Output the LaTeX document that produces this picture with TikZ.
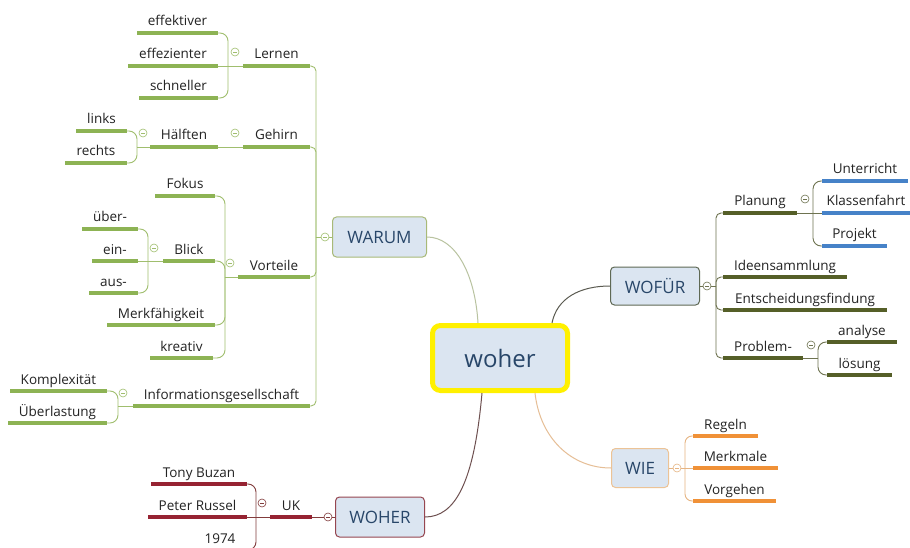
\documentclass[tikz,border=0pt]{standalone}
\usepackage{fontspec}
\setmainfont{Open Sans}
\usetikzlibrary{calc}
\definecolor{gline}{RGB}{141,179,84}
\definecolor{gconn}{RGB}{160,190,110}
\definecolor{oline}{RGB}{85,95,40}
\definecolor{oconn}{RGB}{110,115,80}
\definecolor{bline}{RGB}{70,130,200}
\definecolor{orline}{RGB}{240,145,55}
\definecolor{orconn}{RGB}{230,180,130}
\definecolor{rline}{RGB}{150,35,50}
\definecolor{rconn}{RGB}{130,60,60}
\definecolor{boxfill}{RGB}{219,229,241}
\definecolor{leaftext}{RGB}{35,35,35}
\definecolor{topictext}{RGB}{40,70,105}
\definecolor{bwarum}{RGB}{168,185,120}
\definecolor{bwofur}{RGB}{95,105,85}
\definecolor{bwie}{RGB}{236,195,150}
\definecolor{bwoher}{RGB}{150,70,80}
\definecolor{cwarumc}{RGB}{185,195,160}
\definecolor{cwofurc}{RGB}{90,90,80}
\definecolor{cwiec}{RGB}{230,190,150}
\definecolor{cwoherc}{RGB}{110,80,80}
\definecolor{centerborder}{RGB}{255,240,0}
\tikzset{
  leaf/.style={font=\fontsize{13.5}{16}\selectfont, text=leaftext, inner xsep=0pt, inner ysep=4pt,
    outer sep=0pt, text height=9.5pt, text depth=3pt, anchor=south west},
  ul/.style={append after command={\pgfextra{\draw[line width=3.2pt,draw=#1] (\tikzlastnode.south west) -- (\tikzlastnode.south east);}}},
  gleaf/.style={leaf, ul=gline},
  oleaf/.style={leaf, ul=oline},
  bleaf/.style={leaf, ul=bline},
  orleaf/.style={leaf, ul=orline},
  rleaf/.style={leaf, ul=rline},
  conn/.style={line width=0.9pt, rounded corners=5pt},
  brack/.style={line width=0.9pt, rounded corners=8pt},
  topic/.style={rounded corners=4pt, fill=boxfill, line width=1pt, text=topictext,
    font=\fontsize{17}{20}\selectfont},
  coll/.style={circle, draw=#1, fill=white, line width=0.6pt, inner sep=0pt, minimum size=8pt,
    path picture={\draw[#1, line width=0.5pt] ([xshift=2pt]path picture bounding box.west) -- ([xshift=-2pt]path picture bounding box.east);}},
}
\begin{document}
\begin{tikzpicture}[x=1pt,y=-1pt]
\clip (0,0) rectangle (910,548);
\fill[white] (0,0) rectangle (910,548);

% ---------- central and main topics ----------
\node[draw=centerborder, line width=5pt, rounded corners=8pt, fill=boxfill, minimum width=135pt,
  minimum height=65pt, text=topictext, font=\fontsize{24}{28}\selectfont] (woher) at (500,358) {woher};
\node[topic, draw=bwarum, minimum width=94pt, minimum height=40pt] (warum) at (379.5,237) {WARUM};
\node[topic, draw=bwofur, minimum width=89pt, minimum height=38pt] (wofur) at (655,286) {WOFÜR};
\node[topic, draw=bwie, minimum width=57pt, minimum height=39pt] (wie) at (640,468) {WIE};
\node[topic, draw=bwoher, minimum width=89pt, minimum height=40pt] (woherb) at (380,517) {WOHER};

\draw[cwarumc, line width=1pt] (warum.east) .. controls +(28,0) and +(-3,-50) .. ([xshift=-22pt]woher.north);
\draw[cwofurc, line width=1pt] ([xshift=52pt]woher.north) .. controls +(5,-25) and +(-30,0) .. (wofur.west);
\draw[cwiec, line width=1pt] ([xshift=35pt]woher.south) .. controls +(5,45) and +(-40,0) .. (wie.west);
\draw[cwoherc, line width=1pt] ([xshift=-18pt]woher.south) .. controls +(-8,90) and +(30,0) .. (woherb.east);

% ---------- WARUM branch (green) ----------
\node[gleaf, minimum width=67pt] (lernen) at (243,66) {Lernen};
\node[gleaf, minimum width=81pt] (effektiver) at (137,33) {effektiver};
\node[gleaf, minimum width=90pt] (effezienter) at (128,66) {effezienter};
\node[gleaf, minimum width=79pt] (schneller) at (139,98) {schneller};
\node[gleaf, minimum width=67pt] (gehirn) at (243,147) {Gehirn};
\node[gleaf, minimum width=68pt] (haelften) at (150,147) {Hälften};
\node[gleaf, minimum width=51pt] (links) at (76,131) {links};
\node[gleaf, minimum width=62pt] (rechts) at (65,163) {rechts};
\node[gleaf, minimum width=72pt] (vorteile) at (238,277) {Vorteile};
\node[gleaf, minimum width=60pt] (fokus) at (155,196) {Fokus};
\node[gleaf, minimum width=52pt] (blick) at (163,261) {Blick};
\node[gleaf, minimum width=56pt] (ueber) at (82,229) {über-};
\node[gleaf, minimum width=46pt] (ein) at (92,261) {ein-};
\node[gleaf, minimum width=49pt] (aus) at (89,293) {aus-};
\node[gleaf, minimum width=108pt] (merk) at (107,325) {Merkfähigkeit};
\node[gleaf, minimum width=63pt] (kreativ) at (150,358) {kreativ};
\node[gleaf, minimum width=177pt] (info) at (133,406) {Informationsgesellschaft};
\node[gleaf, minimum width=97pt] (komplex) at (10,391) {Komplexität};
\node[gleaf, minimum width=99pt] (ueberlast) at (8,423) {Überlastung};

\coordinate (jwarum) at (316,237);
\coordinate (jlernen) at (228,66);
\coordinate (jhael) at (137,147);
\coordinate (jvort) at (225,277);
\coordinate (jblick) at (148,261);
\coordinate (jinfo) at (118,406);

\draw[conn, gconn] (warum.west) -- (jwarum);
\foreach \n in {lernen,gehirn,vorteile,info} \draw[conn, gconn] (jwarum) |- (\n.south east);
\draw[conn, gconn] (lernen.south west) -- (jlernen);
\draw[brack, gconn] (jlernen) |- (effektiver.south east);
\draw[conn, gconn] (jlernen) -- (effezienter.south east);
\draw[brack, gconn] (jlernen) |- (schneller.south east);
\draw[conn, gconn] (gehirn.south west) -- (haelften.south east);
\draw[conn, gconn] (haelften.south west) -- (jhael);
\draw[brack, gconn] (jhael) |- (links.south east);
\draw[brack, gconn] (jhael) |- (rechts.south east);
\draw[conn, gconn] (vorteile.south west) -- (jvort);
\foreach \n in {fokus,blick,merk,kreativ} \draw[brack, gconn] (jvort) |- (\n.south east);
\draw[conn, gconn] (blick.south west) -- (jblick);
\draw[brack, gconn] (jblick) |- (ueber.south east);
\draw[conn, gconn] (jblick) -- (ein.south east);
\draw[brack, gconn] (jblick) |- (aus.south east);
\draw[conn, gconn] (info.south west) -- (jinfo);
\draw[brack, gconn] (jinfo) |- (komplex.south east);
\draw[brack, gconn] (jinfo) |- (ueberlast.south east);

\node[coll=gconn] (cwarum) at (325,237) {};
\node[coll=gconn] (clernen) at (235,52) {};
\node[coll=gconn] (cgehirn) at (235,133) {};
\node[coll=gconn] (chael) at (143,133) {};
\node[coll=gconn] (cvort) at (230,263) {};
\node[coll=gconn] (cblick) at (154,248) {};
\node[coll=gconn] (cinfo) at (123,393) {};

% ---------- WOFÜR branch (olive / blue) ----------
\node[oleaf, minimum width=74pt] (planung) at (723,213) {Planung};
\node[bleaf, minimum width=86pt] (unterricht) at (822,181) {Unterricht};
\node[bleaf, minimum width=88pt] (klassen) at (822,213) {Klassenfahrt};
\node[bleaf, minimum width=65pt] (projekt) at (822,246) {Projekt};
\node[oleaf, minimum width=124pt] (ideen) at (723,277) {Ideensammlung};
\node[oleaf, minimum width=164pt] (entsch) at (723,310) {Entscheidungsfindung};
\node[oleaf, minimum width=80pt] (problem) at (723,358) {Problem-};
\node[oleaf, minimum width=70pt] (analyse) at (827,342) {analyse};
\node[oleaf, minimum width=65pt] (loesung) at (827,375) {lösung};

\coordinate (jwof) at (716,286);
\coordinate (jplan) at (813,213);
\coordinate (jprob) at (818,358);
\draw[conn, oconn] (wofur.east) -- (jwof);
\foreach \n in {planung,ideen,entsch,problem} \draw[conn, oconn] (jwof) |- (\n.south west);
\draw[conn, oconn] (planung.south east) -- (jplan);
\draw[brack, oconn] (jplan) |- (unterricht.south west);
\draw[conn, oconn] (jplan) -- (klassen.south west);
\draw[brack, oconn] (jplan) |- (projekt.south west);
\draw[conn, oconn] (problem.south east) -- (jprob);
\draw[brack, oconn] (jprob) |- (analyse.south west);
\draw[brack, oconn] (jprob) |- (loesung.south west);

\node[coll=oconn] (cwof) at (707,286) {};
\node[coll=oconn] (cplan) at (805,199) {};
\node[coll=oconn] (cprob) at (811,345) {};

% ---------- WIE branch (orange) ----------
\node[orleaf, minimum width=65pt] (regeln) at (693,436) {Regeln};
\node[orleaf, minimum width=85pt] (merkmale) at (693,468) {Merkmale};
\node[orleaf, minimum width=83pt] (vorgehen) at (693,501) {Vorgehen};
\coordinate (jwie) at (685,468);
\draw[conn, orconn] (wie.east) -- (jwie);
\draw[conn, orconn, rounded corners=7pt] (jwie) |- (regeln.south west);
\draw[conn, orconn] (jwie) -- (merkmale.south west);
\draw[conn, orconn, rounded corners=7pt] (jwie) |- (vorgehen.south west);
\node[coll=orconn] (cwie) at (677,468) {};

% ---------- WOHER branch (red) ----------
\node[rleaf, minimum width=42pt] (uk) at (270,517) {UK};
\node[rleaf, minimum width=96pt] (tony) at (151,484) {Tony Buzan};
\node[rleaf, minimum width=99pt] (peter) at (148,517) {Peter Russel};
\node[rleaf, minimum width=54pt] (y1974) at (193,550) {1974};
\coordinate (juk) at (256,517);
\draw[conn, rconn] (woherb.west) -- (uk.south east);
\draw[conn, rconn] (uk.south west) -- (juk);
\draw[brack, rconn] (juk) |- (tony.south east);
\draw[conn, rconn] (juk) -- (peter.south east);
\draw[brack, rconn] (juk) |- (y1974.south east);
\node[coll=rconn] (cwoher) at (328,517) {};
\node[coll=rconn] (cuk) at (262,503) {};
\end{tikzpicture}
\end{document}
